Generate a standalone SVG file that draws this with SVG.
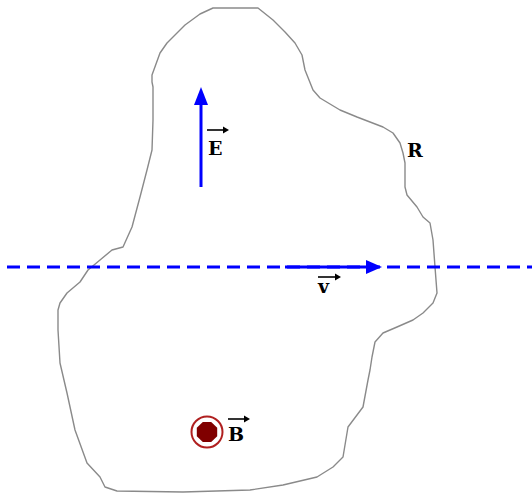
<svg xmlns="http://www.w3.org/2000/svg" width="532" height="493" viewBox="0 0 532 493">
<style>
.outline{fill:none;stroke:#8a8a8a;stroke-width:1.4;stroke-linejoin:round}
.blue{stroke:#0000ff;stroke-width:3;fill:none}
.dash{stroke-dasharray:13 7}
.head{fill:#0000ff}
.lbl{font-family:"DejaVu Serif","Liberation Serif",serif;font-weight:bold;font-size:19px;fill:#000}
.acc{stroke:#000;stroke-width:1.6}
</style>
<rect width="532" height="493" fill="#fff"/>
<g id="region">
<path class="outline" d="M213,8 L258,8 L273,20 L285,32 L295,43 L302,55 L305,70 L313,90 L320,98 L340,110 L357,117 L383,127 L393,133 L400,143 L403,153 L405,163 L405,187 L407,195 L417,207 L423,217 L430,223 L433,240 L435,267 L437,293 L433,303 L423,313 L413,320 L397,327 L383,333 L375,342 L372,357 L370,370 L368,380 L363,407 L348,427 L343,457 L333,467 L317,477 L283,485 L250,490 L183,492 L117,491 L105,487 L100,477 L87,463 L75,430 L67,393 L60,363 L58,330 L58,310 L60,303 L67,293 L80,282 L88,270 L100,260 L112,250 L123,247 L132,227 L140,197 L147,170 L152,150 L153,120 L153,87 L152,82 L152,75 L160,53 L167,43 L185,25 L200,14 Z"/>
<text class="lbl" x="407" y="157">R</text>
</g>
<g id="connectors">
<line class="blue dash" x1="7" y1="267" x2="532" y2="267"/>
<line class="blue" x1="285" y1="267" x2="370" y2="267"/>
<polygon class="head" points="382,267 366,260 366,274"/>
</g>
<g id="E">
<line class="blue" x1="201" y1="187" x2="201" y2="100"/>
<polygon class="head" points="201,87 194,105 208,105"/>
<line class="acc" x1="207" y1="130" x2="225" y2="130"/>
<polygon points="229,130 223,126.5 223,133.5" fill="#000"/>
<text class="lbl" x="208" y="155">E</text>
</g>
<g id="v">
<line class="acc" x1="318" y1="277" x2="337" y2="277"/>
<polygon points="341,277 335,273.5 335,280.5" fill="#000"/>
<text class="lbl" x="318" y="293">v</text>
</g>
<g id="B">
<circle cx="207" cy="432" r="15.5" fill="none" stroke="#b02020" stroke-width="2"/>
<polygon points="211.2,422 217.2,427.8 217.2,436.2 211.2,442 202.8,442 196.8,436.2 196.8,427.8 202.8,422" fill="#800000"/>
<line class="acc" x1="228" y1="419" x2="246" y2="419"/>
<polygon points="250,419 244,415.5 244,422.5" fill="#000"/>
<text class="lbl" x="228" y="441">B</text>
</g>
</svg>
